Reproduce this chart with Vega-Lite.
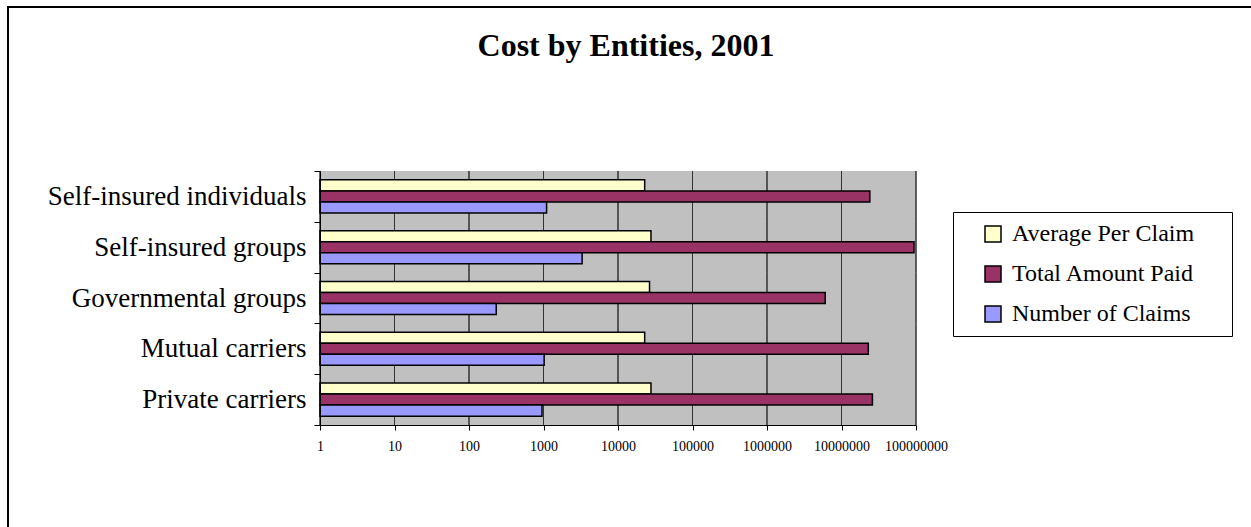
{
  "$schema": "https://vega.github.io/schema/vega-lite/v6.json",
  "autosize": "none",
  "padding": {"left": 8, "top": 7, "right": 0, "bottom": 0},
  "width": 1300,
  "height": 600,
  "background": "white",
  "config": {
    "view": {"stroke": "black", "strokeWidth": 2, "fill": "white"},
    "font": "Liberation Serif",
    "axisX": {
      "offset": -182,
      "labelFont": "Liberation Serif",
      "labelFontSize": 14,
      "labelColor": "black",
      "labelPadding": 9,
      "labelFlush": false,
      "tickSize": 5,
      "tickColor": "black",
      "domainColor": "black",
      "grid": false
    },
    "legend": {
      "strokeColor": "black",
      "fillColor": "white",
      "padding": 10,
      "symbolType": "square",
      "symbolSize": 256,
      "symbolStrokeColor": "black",
      "symbolStrokeWidth": 1.5,
      "symbolOffset": 18,
      "labelOffset": 7,
      "labelFont": "Liberation Serif",
      "labelFontSize": 24,
      "labelColor": "black",
      "labelLimit": 400,
      "rowPadding": 16
    }
  },
  "title": {
    "text": "Cost by Entities, 2001",
    "font": "Liberation Serif",
    "fontSize": 32,
    "fontWeight": "bold",
    "color": "black",
    "anchor": "middle",
    "frame": "group",
    "dx": -32,
    "offset": -95,
    "baseline": "alphabetic"
  },
  "data": {
    "values": [
      {"category": "Private carriers", "series": "Average Per Claim", "value": 27700},
      {"category": "Private carriers", "series": "Total Amount Paid", "value": 26000000},
      {"category": "Private carriers", "series": "Number of Claims", "value": 955},
      {"category": "Mutual carriers", "series": "Average Per Claim", "value": 22800},
      {"category": "Mutual carriers", "series": "Total Amount Paid", "value": 22900000},
      {"category": "Mutual carriers", "series": "Number of Claims", "value": 1020},
      {"category": "Governmental groups", "series": "Average Per Claim", "value": 26500},
      {"category": "Governmental groups", "series": "Total Amount Paid", "value": 6050000},
      {"category": "Governmental groups", "series": "Number of Claims", "value": 232},
      {"category": "Self-insured groups", "series": "Average Per Claim", "value": 27700},
      {"category": "Self-insured groups", "series": "Total Amount Paid", "value": 94000000},
      {"category": "Self-insured groups", "series": "Number of Claims", "value": 3300},
      {"category": "Self-insured individuals", "series": "Average Per Claim", "value": 22800},
      {"category": "Self-insured individuals", "series": "Total Amount Paid", "value": 24000000},
      {"category": "Self-insured individuals", "series": "Number of Claims", "value": 1100}
    ]
  },
  "encoding": {
    "y": {
      "field": "category",
      "type": "nominal",
      "sort": ["Self-insured individuals", "Self-insured groups", "Governmental groups", "Mutual carriers", "Private carriers"],
      "scale": {"range": [164, 418], "paddingInner": 0, "paddingOuter": 0},
      "axis": {
        "title": null,
        "offset": -312,
        "tickBand": "extent",
        "grid": false,
        "domainColor": "black",
        "tickColor": "black",
        "tickSize": 6,
        "labelPadding": 8,
        "labelFont": "Liberation Serif",
        "labelFontSize": 27,
        "labelColor": "black",
        "labelLimit": 500
      }
    }
  },
  "layer": [
    {
      "mark": {"type": "rect", "fill": "#C0C0C0"},
      "encoding": {
        "x": {
          "datum": 1,
          "type": "quantitative",
          "scale": {"type": "log", "domain": [1, 100000000], "range": [312, 908]},
          "axis": {"title": null, "values": [1, 10, 100, 1000, 10000, 100000, 1000000, 10000000, 100000000], "format": "d"}
        },
        "x2": {"datum": 100000000}
      }
    },
    {
      "data": {
        "values": [
          {"category": "Self-insured individuals", "g": [1, 10, 100, 1000, 10000, 100000, 1000000, 10000000, 100000000]},
          {"category": "Self-insured groups", "g": [1, 10, 100, 1000, 10000, 100000, 1000000, 10000000, 100000000]},
          {"category": "Governmental groups", "g": [1, 10, 100, 1000, 10000, 100000, 1000000, 10000000, 100000000]},
          {"category": "Mutual carriers", "g": [1, 10, 100, 1000, 10000, 100000, 1000000, 10000000, 100000000]},
          {"category": "Private carriers", "g": [1, 10, 100, 1000, 10000, 100000, 1000000, 10000000, 100000000]}
        ]
      },
      "transform": [{"flatten": ["g"]}],
      "mark": {"type": "bar", "fill": null, "stroke": "#333333", "strokeWidth": 1},
      "encoding": {
        "x": {
          "field": "g",
          "type": "quantitative",
          "scale": {"type": "log", "domain": [1, 100000000], "range": [312, 908]},
          "axis": {"title": null, "values": [1, 10, 100, 1000, 10000, 100000, 1000000, 10000000, 100000000], "format": "d"}
        },
        "x2": {"field": "g"}
      }
    },
    {
      "mark": {"type": "bar", "stroke": "black", "strokeWidth": 1.5},
      "encoding": {
        "x": {
          "field": "value",
          "type": "quantitative",
          "scale": {"type": "log", "domain": [1, 100000000], "range": [312, 908]},
          "axis": {"title": null, "values": [1, 10, 100, 1000, 10000, 100000, 1000000, 10000000, 100000000], "format": "d"}
        },
        "x2": {"datum": 1},
        "yOffset": {
          "field": "series",
          "type": "nominal",
          "sort": ["Average Per Claim", "Total Amount Paid", "Number of Claims"],
          "scale": {"paddingInner": 0, "paddingOuter": 0.8}
        },
        "color": {
          "field": "series",
          "type": "nominal",
          "scale": {
            "domain": ["Average Per Claim", "Total Amount Paid", "Number of Claims"],
            "range": ["#FFFFCC", "#993366", "#9999FF"]
          },
          "legend": {
            "orient": "none",
            "legendX": 945,
            "legendY": 205,
            "title": " ",
            "titleOrient": "right",
            "titlePadding": 28
          }
        }
      }
    }
  ]
}
